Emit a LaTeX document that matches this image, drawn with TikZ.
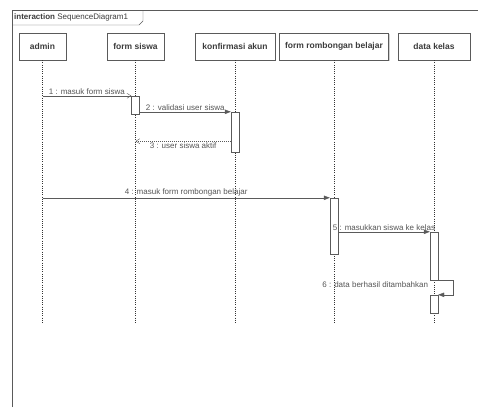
\documentclass[tikz,border=0pt]{standalone}
\usepackage{fontspec}
\setmainfont{Liberation Sans}
\usepackage{xcolor}
\usepackage{tikz}
\definecolor{linegray}{RGB}{90,90,90}
\definecolor{textgray}{RGB}{60,60,60}
\definecolor{labelgray}{RGB}{85,85,85}
\usetikzlibrary{arrows.meta,positioning,calc,shadows}
\tikzset{
    head/.style={rectangle, draw=linegray, fill=white, minimum height=27pt, inner sep=2pt, text=textgray, font=\bfseries\fontsize{8.5}{10}\selectfont, drop shadow={shadow xshift=1.2pt, shadow yshift=-1.2pt, fill=black!18, opacity=1}},
    act/.style={rectangle, draw=linegray, fill=white, minimum width=8pt, inner sep=0pt},
    lifeline/.style={draw=black!80, dash pattern=on 1pt off 1.2pt},
    call/.style={draw=linegray, -{Triangle[length=6pt, width=4.5pt]}},
    open/.style={draw=linegray, -{Straight Barb[length=4pt, width=5pt]}},
    reply/.style={draw=linegray, dash pattern=on 1pt off 1pt, -{Straight Barb[length=4pt, width=5pt]}},
    msg/.style={text=labelgray, font=\fontsize{8}{9}\selectfont, inner sep=1.5pt},
}

\begin{document}
\begin{tikzpicture}[x=1pt, y=-1pt]
    \useasboundingbox (0,0) rectangle (478,407);
    % Frame
    \draw[linegray] (12,407) -- (12,10) -- (478,10);
    \draw[linegray] (12,25) -- (139,25) -- (143,21) -- (143,10);
    \node[anchor=west, inner sep=1pt, text=textgray, font=\fontsize{8}{9}\selectfont] (title) at (13,17.5) {\textbf{interaction} SequenceDiagram1};

    % Lifeline heads
    \node[head, minimum width=47pt] (admin) at (42.5,46.5) {admin};
    \node[head, minimum width=57pt] (fsiswa) at (135.5,46.5) {form siswa};
    \node[head, minimum width=80pt] (konf) at (235,46.5) {konfirmasi akun};
    \node[head, minimum width=109pt] (frombel) at (334,46.5) {form rombongan belajar};
    \node[head, minimum width=72pt] (dkelas) at (434,46.5) {data kelas};

    % Lifelines
    \coordinate (bottom) at (0,323);
    \foreach \obj in {admin, fsiswa, konf, frombel, dkelas}
        \draw[lifeline] (\obj.south) -- (\obj.south |- bottom);

    % Activations
    \node[act, minimum height=18pt] (act1) at (135.5,105) {};
    \node[act, minimum height=40pt] (act2) at (235,132) {};
    \node[act, minimum height=56pt] (act3) at (334,226) {};
    \node[act, minimum height=48pt] (act4) at (434,256) {};
    \node[act, minimum height=18pt] (act5) at (434,304) {};

    % Messages
    \draw[open] (admin.south |- act1.north west) -- node[msg, above] {1 : masuk form siswa} (act1.north west);
    \draw[call] (act1.east |- act2.north west) -- node[msg, above] {2 : validasi user siswa} (act2.north west);
    \coordinate (r3) at ([yshift=11pt]act2.south west);
    \draw[reply] (r3) -- node[msg, below] {3 : user siswa aktif} (fsiswa.south |- r3);
    \draw[call] (admin.south |- act3.north west) -- node[msg, above] {4 : masuk form rombongan belajar} (act3.north west);
    \draw[call] (act3.east |- act4.north west) -- node[msg, above] {5 : masukkan siswa ke kelas} (act4.north west);
    \draw[call] (act4.south east) -| ([xshift=15pt]act5.north east) -- (act5.north east);
    \node[msg, anchor=east] (lbl6) at ([yshift=-4pt]act4.south west) {6 : data berhasil ditambahkan};
\end{tikzpicture}
\end{document}
